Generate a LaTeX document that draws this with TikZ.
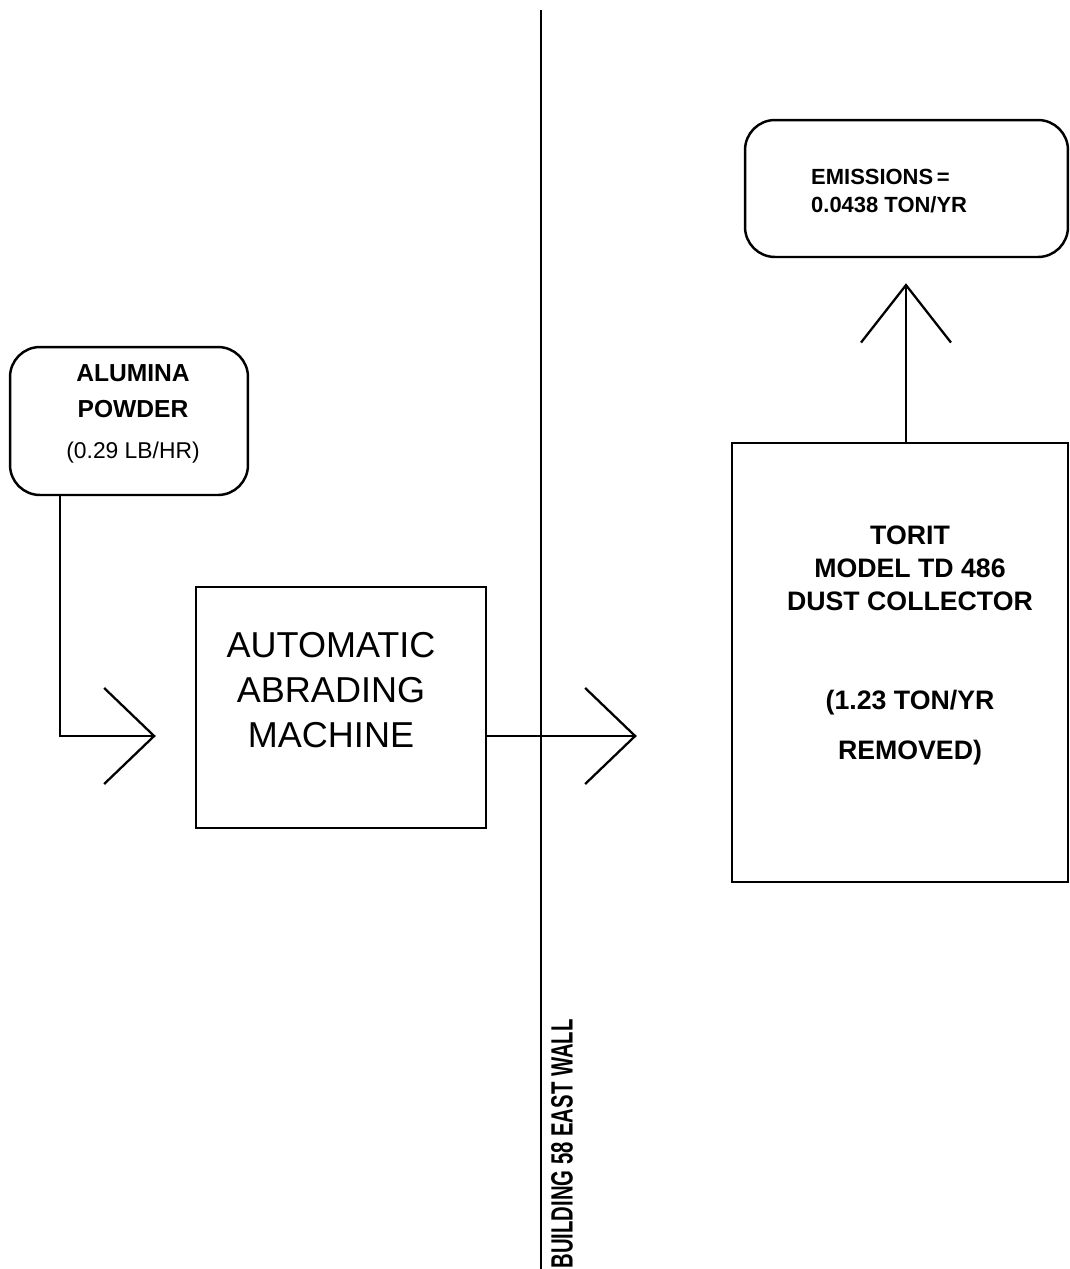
\documentclass[tikz,border=0pt]{standalone}
\usepackage{fontspec}
\setmainfont{Liberation Sans}
\usepackage{graphicx}
\usetikzlibrary{positioning, arrows.meta, calc}
\tikzset{
  srcbox/.style={draw, line width=1.4pt, rounded corners=0.6cm, inner sep=0pt},
  unitbox/.style={draw, line width=1.4pt, inner sep=0pt},
  flow/.style={line width=0.8pt, -{Straight Barb[length=1cm, width=1.92cm, line width=1.3pt]}},
  upflow/.style={line width=0.8pt, -{Straight Barb[length=1.15cm, width=1.8cm, line width=1.3pt]}}
}

\begin{document}
\begin{tikzpicture}[x=0.02cm, y=-0.02cm]
  \useasboundingbox[fill=white] (0,0) rectangle (1070,1269);

  % boxes
  \node[srcbox, minimum width=4.76cm, minimum height=2.96cm] (alumina) at (129,421) {};
  \node[unitbox, minimum width=5.8cm, minimum height=4.82cm] (machine) at (341,707.5) {};
  \node[unitbox, minimum width=6.72cm, minimum height=8.78cm] (collector) at (900,662.5) {};
  \node[srcbox, minimum width=6.46cm, minimum height=2.74cm] (emission) at (906.5,188.5) {};

  % texts
  \node[align=center, font=\bfseries\fontsize{14}{20.4}\selectfont] (aluminatext) at (133,414)
    {ALUMINA\\POWDER\\[2.6pt]{\mdseries\fontsize{13}{20.4}\selectfont (0.29 LB/HR)}};
  \node[align=center, font=\fontsize{20.5}{25.5}\selectfont] (machinetext) at (331,690)
    {AUTOMATIC\\ABRADING\\MACHINE};
  \node[align=center, font=\bfseries\fontsize{15.2}{18.8}\selectfont] (collectortext) at (910,645)
    {TORIT\\MODEL TD 486\\DUST COLLECTOR\\[37.5pt](1.23 TON/YR\\[9.6pt]REMOVED)};
  \node[anchor=west, align=left, font=\bfseries\fontsize{12.5}{16.4}\selectfont] (emissiontext) at (805,191)
    {EMISSIONS\,=\\0.0438 TON/YR};

  % wall
  \coordinate (walltop) at (541,10);
  \coordinate (wallbottom) at (541,1269);
  \draw[line width=1.4pt] (walltop) -- (wallbottom);
  \node[rotate=90, font=\bfseries\fontsize{17.5}{20}\selectfont, inner sep=0pt] (walltext) at (562,1144)
    {\scalebox{0.66}[1]{BUILDING 58 EAST WALL}};

  % flows
  \draw[flow, shorten >=0.78cm] (alumina.south -| 60,0) |- (machine.west |- 0,736);
  \draw[flow, shorten >=1.88cm] (machine.east |- 0,736) -- (collector.west |- 0,736);
  \draw[upflow, shorten >=0.5cm] (collector.north -| 906,0) -- (emission.south -| 906,0);
\end{tikzpicture}
\end{document}
